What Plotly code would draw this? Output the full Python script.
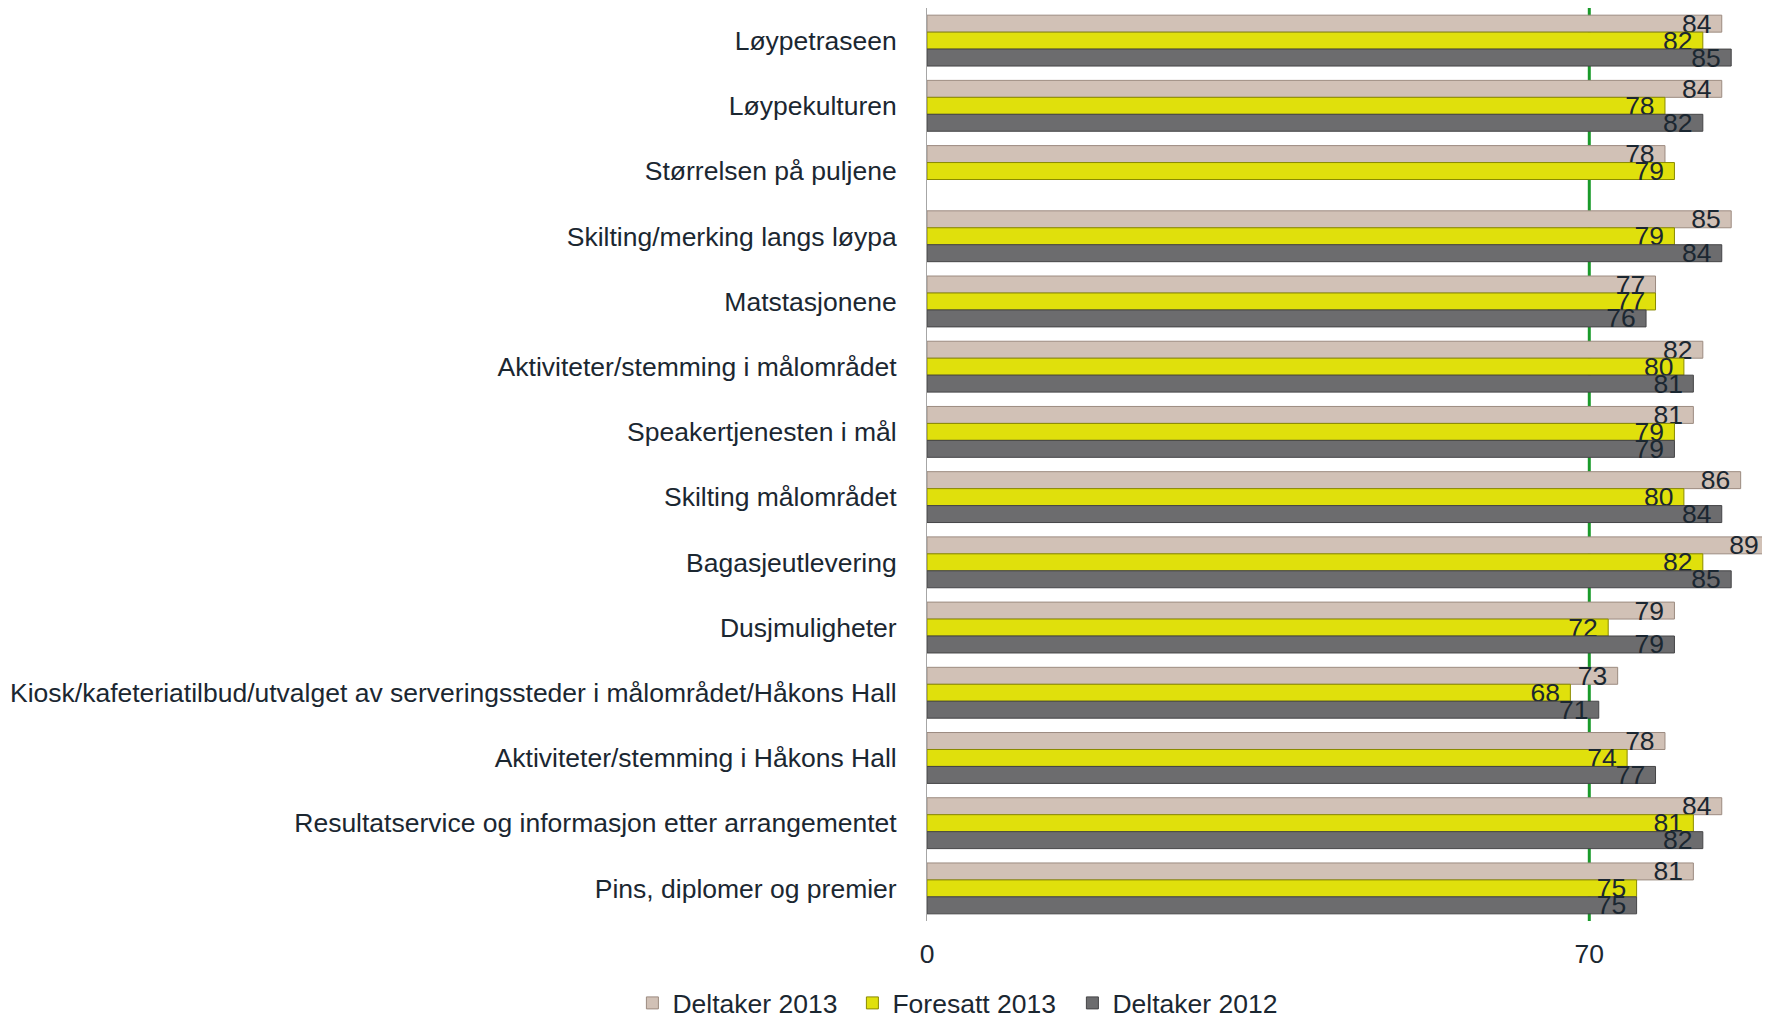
import plotly.graph_objects as go

categories = [
    "Løypetraseen",
    "Løypekulturen",
    "Størrelsen på puljene",
    "Skilting/merking langs løypa",
    "Matstasjonene",
    "Aktiviteter/stemming i målområdet",
    "Speakertjenesten i mål",
    "Skilting målområdet",
    "Bagasjeutlevering",
    "Dusjmuligheter",
    "Kiosk/kafeteriatilbud/utvalget av serveringssteder i målområdet/Håkons Hall",
    "Aktiviteter/stemming i Håkons Hall",
    "Resultatservice og informasjon etter arrangementet",
    "Pins, diplomer og premier",
]
deltaker_2013 = [84, 84, 78, 85, 77, 82, 81, 86, 89, 79, 73, 78, 84, 81]
foresatt_2013 = [82, 78, 79, 79, 77, 80, 79, 80, 82, 72, 68, 74, 81, 75]
deltaker_2012 = [85, 82, None, 84, 76, 81, 79, 84, 85, 79, 71, 77, 82, 75]
series_names = ["Deltaker 2013", "Foresatt 2013", "Deltaker 2012"]
tick_vals = [0, 70]
target_line = 70

TXT = "#1b2731"
FONT = "Liberation Sans, Arial, sans-serif"
FS = 26.5

styles = [
    ("#d1c1b6", "#9c8b80"),
    ("#e0e00c", "#8a8a00"),
    ("#6c6c6e", "#454547"),
]

fig = go.Figure()
for name, vals, (fill, edge) in zip(series_names, [deltaker_2013, foresatt_2013, deltaker_2012], styles):
    fig.add_trace(go.Bar(
        name=name, y=categories, x=vals, orientation="h",
        marker=dict(color=fill, line=dict(color=edge, width=1)),
        text=[("" if v is None else str(v) + "\u00a0") for v in vals],
        textposition="inside", insidetextanchor="end", textangle=0,
        constraintext="none",
        textfont=dict(color=TXT, size=FS, family=FONT),
    ))

fig.add_shape(type="line", xref="x", yref="paper", x0=target_line, x1=target_line,
              y0=0, y1=1, line=dict(color="#1a9a2a", width=3), layer="below")

fig.update_layout(
    width=1762, height=1014,
    margin=dict(l=919, r=0, t=0, b=101, autoexpand=False),
    paper_bgcolor="white", plot_bgcolor="white",
    barmode="group", bargap=0.22, bargroupgap=0,
    font=dict(family=FONT, size=FS, color=TXT),
    showlegend=True,
    legend=dict(orientation="h", x=0.042, xanchor="center", y=-0.09, yanchor="middle",
                font=dict(size=FS, color=TXT), itemwidth=30, entrywidth=175,
                tracegroupgap=0),
    xaxis=dict(range=[0, 89.1], tickvals=tick_vals, showgrid=False, zeroline=False,
               showline=False, ticks="", ticklabelstandoff=14,
               tickfont=dict(size=FS, color=TXT)),
    yaxis=dict(autorange="reversed", showline=True, linecolor="#a6a6a6", linewidth=1,
               ticks="", showgrid=False, ticklabelstandoff=24,
               tickfont=dict(size=FS, color=TXT)),
)
fig.write_html("out.html")
